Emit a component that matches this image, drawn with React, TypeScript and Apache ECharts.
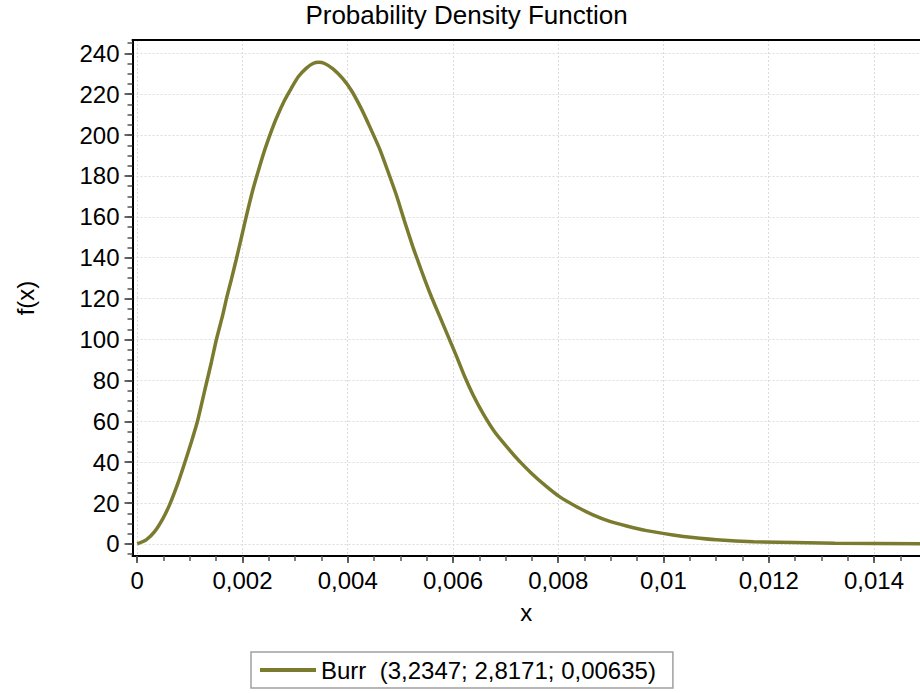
import React, { useEffect, useRef } from "react";
import * as echarts from "echarts";

const xValues = [
  0, 0.00017, 0.00033, 0.00049, 0.00062, 0.00077, 0.0009, 0.00103, 0.00115, 0.0013,
  0.00141, 0.0015, 0.00163, 0.0017, 0.00179, 0.00188, 0.00198, 0.00207, 0.0022, 0.00233,
  0.00242, 0.00255, 0.00264, 0.0028, 0.00293, 0.00306, 0.00321, 0.00334, 0.00345, 0.00356,
  0.00372, 0.00391, 0.00407, 0.00426, 0.00442, 0.00461, 0.00477, 0.00493, 0.00508, 0.00524,
  0.00534, 0.00546, 0.00559, 0.00575, 0.00591, 0.00607, 0.00622, 0.00638, 0.00657, 0.00679,
  0.00702, 0.00724, 0.00749, 0.00778, 0.00803, 0.00835, 0.00866, 0.00898, 0.0093, 0.00968,
  0.01018, 0.01056, 0.01101, 0.01171, 0.01326, 0.01488,
];
const yValues = [
  0, 2, 6, 12.5, 19.5, 29.5, 39.5, 50, 60.5, 77,
  89, 99.5, 112.5, 120.5, 129.5, 139, 150, 160, 173.5, 185,
  192.5, 202, 208, 217, 223, 228.5, 232.6, 235, 235.6, 235,
  232.4, 227.5, 221.8, 212.8, 204, 193, 181.8, 170.2, 157.8, 145.2,
  138, 129.5, 120.9, 111.2, 101.4, 91.6, 82, 73, 63.9, 54.9,
  47.6, 41.1, 34.6, 28, 23, 18.2, 14.2, 11, 8.8, 6.5,
  4.4, 3.1, 2, 1.1, 0.3, 0.1,
];

const xMajorTicks = [0, 0.002, 0.004, 0.006, 0.008, 0.01, 0.012, 0.014];
const yMajorTicks = [0, 20, 40, 60, 80, 100, 120, 140, 160, 180, 200, 220, 240];
const xMinorStep = 0.0005;
const yMinorStep = 5;

const seriesName = "Burr  (3,2347; 2,8171; 0,00635)";
const titleText = "Probability Density Function";

const X_MIN = -0.00009;
const X_MAX = 0.014875;
const Y_MIN = -5.9;
const Y_MAX = 246.5;

const FONT = 'Arial, "Liberation Sans", sans-serif';
const LINE_COLOR = "#7b7b2f";

function minorTicks(min: number, max: number, step: number): number[] {
  const out: number[] = [];
  const start = Math.ceil(min / step);
  const end = Math.floor(max / step);
  for (let i = start; i <= end; i++) out.push(+(i * step).toPrecision(8));
  return out;
}

function fmt(v: number): string {
  return String(+Number(v).toPrecision(6)).replace(".", ",");
}

export default function App() {
  const ref = useRef<HTMLDivElement>(null);
  useEffect(() => {
    if (!ref.current) return;
    const chart = echarts.init(ref.current, undefined, { renderer: "svg" });
    const data = xValues.map((x, i) => [x, yValues[i]]);
    const xMinor = minorTicks(X_MIN, X_MAX, xMinorStep);
    const yMinor = minorTicks(Y_MIN, Y_MAX, yMinorStep);
    const grid = { left: 132.5, top: 40, right: 0, bottom: 137 };
    chart.setOption({
      animation: false,
      backgroundColor: "#ffffff",
      graphic: [
        {
          type: "text",
          x: 466.5,
          y: 15,
          style: {
            text: titleText,
            fontSize: 26,
            fontFamily: FONT,
            fill: "#000",
            align: "center",
            verticalAlign: "middle",
          },
        },
      ],
      grid,
      legend: {
        left: 251,
        top: 652,
        data: [{ name: seriesName, icon: "rect" }],
        itemWidth: 56,
        itemHeight: 4,
        padding: [6, 17, 6, 9],
        borderColor: "#a0a0a0",
        borderWidth: 1.5,
        borderRadius: 0,
        backgroundColor: "#fff",
        textStyle: { fontSize: 24, fontFamily: FONT, color: "#000" },
      },
      xAxis: [
        {
          type: "value",
          min: X_MIN,
          max: X_MAX,
          position: "bottom",
          name: "x",
          nameLocation: "middle",
          nameGap: 44,
          nameTextStyle: { fontSize: 24, fontFamily: FONT, color: "#000" },
          axisLine: { show: true, onZero: false, lineStyle: { color: "#000", width: 2 } },
          axisTick: {
            show: true,
            inside: false,
            length: 7,
            customValues: xMajorTicks,
            lineStyle: { color: "#333", width: 1.5 },
          },
          axisLabel: {
            show: true,
            customValues: xMajorTicks,
            margin: 12,
            fontSize: 24,
            fontFamily: FONT,
            color: "#000",
            formatter: (v: number) => fmt(v),
          },
          splitLine: {
            show: true,
            lineStyle: { color: "#dcdcdc", type: [2, 2], width: 1 },
          },
        },
        {
          type: "value",
          min: X_MIN,
          max: X_MAX,
          position: "bottom",
          axisLine: { show: false, onZero: false },
          axisTick: {
            show: true,
            length: 5,
            customValues: xMinor,
            lineStyle: { color: "#555", width: 1.5 },
          },
          axisLabel: { show: false },
          splitLine: { show: false },
        },
        {
          type: "value",
          min: X_MIN,
          max: X_MAX,
          position: "top",
          axisLine: { show: true, onZero: false, lineStyle: { color: "#000", width: 2 } },
          axisTick: { show: false },
          axisLabel: { show: false },
          splitLine: { show: false },
        },
      ],
      yAxis: [
        {
          type: "value",
          min: Y_MIN,
          max: Y_MAX,
          position: "left",
          name: "f(x)",
          nameLocation: "middle",
          nameGap: 95,
          nameTextStyle: { fontSize: 24, fontFamily: FONT, color: "#000" },
          axisLine: { show: true, onZero: false, lineStyle: { color: "#000", width: 2 } },
          axisTick: {
            show: true,
            length: 8,
            customValues: yMajorTicks,
            lineStyle: { color: "#333", width: 1.5 },
          },
          axisLabel: {
            show: true,
            customValues: yMajorTicks,
            margin: 13,
            fontSize: 24,
            fontFamily: FONT,
            color: "#000",
            formatter: (v: number) => fmt(v),
          },
          splitLine: {
            show: true,
            lineStyle: { color: "#dcdcdc", type: [2, 2], width: 1 },
          },
        },
        {
          type: "value",
          min: Y_MIN,
          max: Y_MAX,
          position: "left",
          axisLine: { show: false, onZero: false },
          axisTick: {
            show: true,
            length: 5,
            customValues: yMinor,
            lineStyle: { color: "#555", width: 1.5 },
          },
          axisLabel: { show: false },
          splitLine: { show: false },
        },
      ],
      series: [
        {
          name: seriesName,
          type: "line",
          xAxisIndex: 0,
          yAxisIndex: 0,
          data,
          smooth: 0.2,
          showSymbol: false,
          symbol: "none",
          lineStyle: { color: LINE_COLOR, width: 3.5 },
          itemStyle: { color: LINE_COLOR },
          clip: true,
        },
      ],
    });
    return () => chart.dispose();
  }, []);
  return <div ref={ref} style={{ width: 920, height: 693, position: "absolute", left: 0, top: 0 }} />;
}
